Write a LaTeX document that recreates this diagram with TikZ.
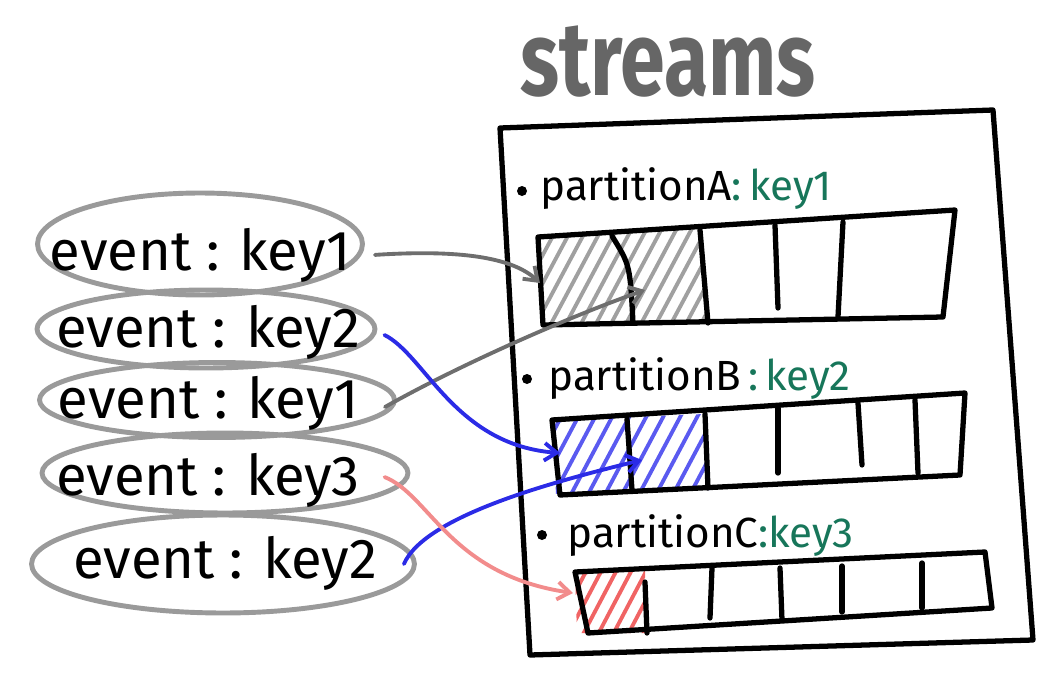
\documentclass[tikz,border=0pt]{standalone}
\usepackage{fontspec}
\setmainfont{Fira Sans}
\usetikzlibrary{shapes.geometric,arrows.meta}
\definecolor{ringgray}{HTML}{9A9A9A}
\definecolor{titlegray}{HTML}{666666}
\definecolor{keygreen}{HTML}{17765A}
\definecolor{linkgray}{HTML}{6E6E6E}
\definecolor{linkblue}{HTML}{2B2BE6}
\definecolor{hatchblue}{HTML}{5A5AF0}
\definecolor{linkred}{HTML}{F28C8C}
\definecolor{hatchred}{HTML}{F06464}
\definecolor{hatchgray}{HTML}{A0A0A0}
\tikzset{
  ring/.style={draw=ringgray,line width=2.8pt,ellipse,inner sep=0pt},
  evttext/.style={font=\fontsize{32}{36}\selectfont,inner sep=0pt},
  plabel/.style={anchor=base west,font=\fontsize{24}{28}\selectfont,inner sep=0pt},
  barline/.style={line width=3pt,line join=round,line cap=round},
  linkline/.style={line width=2.2pt,line cap=round,-{Straight Barb[length=7pt,width=10pt]}},
  hatchline/.style={line width=2.2pt,line cap=round},
}
\begin{document}
\begin{tikzpicture}[x=0.02cm,y=-0.02cm]
\useasboundingbox (0,0) rectangle (1056,683);
% title and frame
\node[text=titlegray,font=\fontsize{46}{50}\selectfont\bfseries,inner sep=0pt] (title) at (668,62) {\scalebox{1}[1.3]{streams}};
\draw[barline] (500,128) -- (993,110) -- (1033,640) -- (530,655) -- cycle;
% events
\node[ring,minimum width=6.5cm,minimum height=2.04cm] (e1) at (200,244) {};
\node[ring,minimum width=6.76cm,minimum height=1.56cm] (e2) at (206,329) {};
\node[ring,minimum width=7.1cm,minimum height=1.5cm] (e3) at (217,400) {};
\node[ring,minimum width=7.32cm,minimum height=1.6cm] (e4) at (225,473) {};
\node[ring,minimum width=7.66cm,minimum height=1.96cm] (e5) at (223,564) {};
\node[evttext] (t1) at (200,255) {event : key1};
\node[evttext] (t2) at (208,332) {event : key2};
\node[evttext] (t3) at (208,403) {event : key1};
\node[evttext] (t4) at (208,480) {event : key3};
\node[evttext] (t5) at (225,563) {event : key2};
% partitions
\fill (522,191) circle (5);
\node[plabel] (pa) at (540,200) {partitionA\textcolor{keygreen}{:\,key1}};
\fill (527,379) circle (5);
\node[plabel] (pb) at (548,390) {partitionB\textcolor{keygreen}{\,:\,key2}};
\fill (542,535) circle (5);
\node[plabel] (pc) at (567,547) {partitionC\textcolor{keygreen}{:key3}};
\begin{scope}
  \clip (540,237) -- (700,229) -- (707,322) -- (543,325) -- cycle;
  \foreach \x in {470,485,...,710}
    \draw[hatchline,hatchgray] (\x,335) -- ++(62,-116);
\end{scope}
\begin{scope}
  \clip (552,420) -- (705,414) -- (710,490) -- (556,494) -- cycle;
  \foreach \x in {500,517,...,712}
    \draw[hatchline,hatchblue] (\x,500) -- ++(50,-94);
\end{scope}
\begin{scope}
  \clip (575,572) -- (645,570) -- (647,633) -- (577,633) -- cycle;
  \foreach \x in {535,550,...,650}
    \draw[hatchline,hatchred] (\x,640) -- ++(40,-76);
\end{scope}
\draw[barline] (538,237) -- (955,210) -- (943,317) -- (543,325) -- cycle;
\draw[barline] (612,236) .. controls (630,265) .. (633,323);
\foreach \xa/\ya/\xb/\yb in {700/230/708/323, 775/225/778/308, 843/222/838/317}
  \draw[barline] (\xa,\ya) -- (\xb,\yb);
\draw[barline] (552,420) -- (965,393) -- (960,475) -- (560,495) -- cycle;
\foreach \xa/\ya/\xb/\yb in {627/419/632/490, 705/414/708/488, 778/408/778/473, 858/403/862/465, 915/400/918/473}
  \draw[barline] (\xa,\ya) -- (\xb,\yb);
\draw[barline] (575,572) -- (985,552) -- (992,608) -- (588,633) -- cycle;
\foreach \xa/\ya/\xb/\yb in {645/582/647/633, 712/568/710/618, 780/568/782/620, 842/566/842/612, 922/563/922/608}
  \draw[barline] (\xa,\ya) -- (\xb,\yb);
% links
\coordinate (a1) at (540,283);
\coordinate (a2) at (645,290);
\coordinate (b1) at (560,453);
\coordinate (b2) at (642,460);
\coordinate (c1) at (573,593);
\draw[linkline,draw=linkgray] ([xshift=5.7pt,yshift=-6.2pt]e1.east) .. controls (450,250) and (510,255) .. (a1);
\draw[linkline,draw=linkgray] ([xshift=-6.8pt,yshift=-4pt]e3.east) .. controls (450,370) and (560,320) .. (a2);
\draw[linkline,draw=linkblue] ([xshift=4pt,yshift=-3.4pt]e2.east) .. controls (425,355) and (455,445) .. (b1);
\draw[linkline,draw=linkblue] ([xshift=-7.4pt]e5.east) .. controls (425,515) and (560,480) .. (b2);
\draw[linkline,draw=linkred] ([xshift=-14.7pt,yshift=-2.3pt]e4.east) .. controls (430,495) and (450,575) .. (c1);
\end{tikzpicture}
\end{document}
